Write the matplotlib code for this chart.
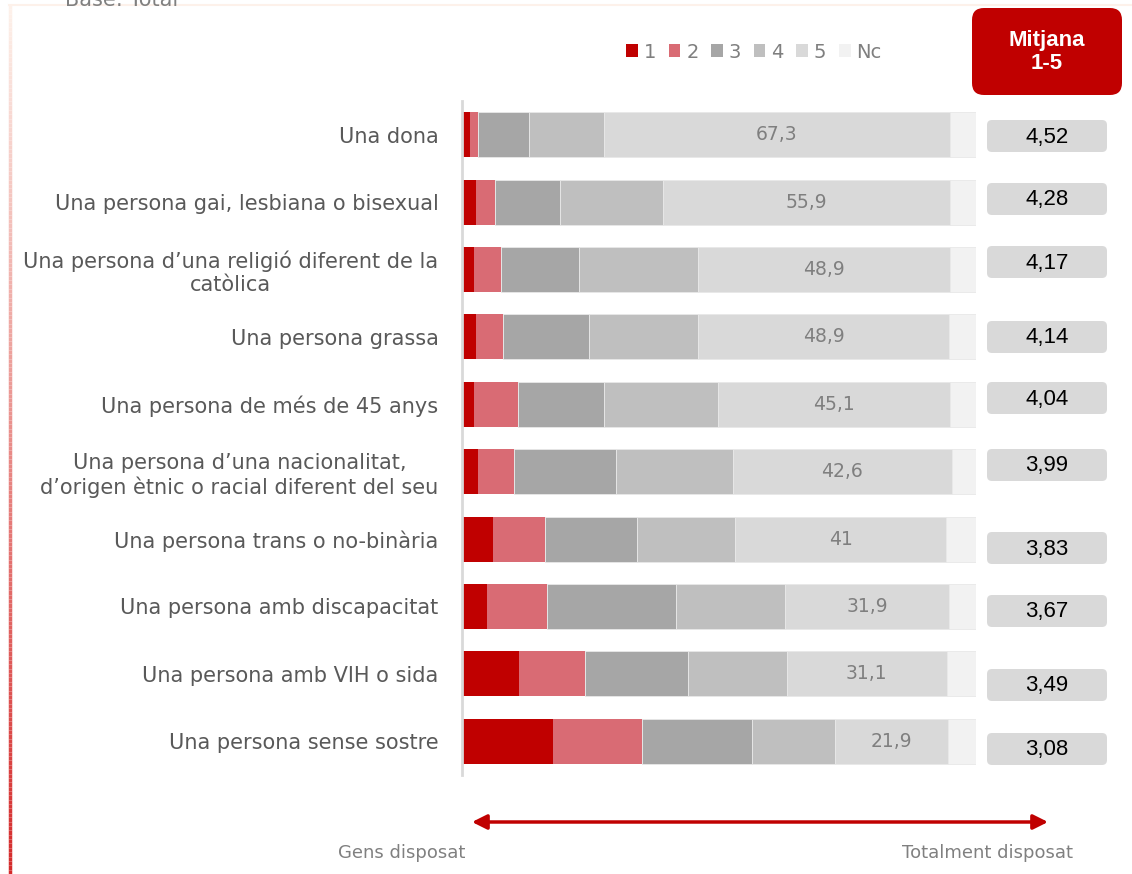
import numpy as np
import matplotlib
matplotlib.use("Agg")
import matplotlib.pyplot as plt
from matplotlib.patches import Patch, FancyBboxPatch
from matplotlib.collections import LineCollection

plt.rcParams['font.family'] = ['DejaVu Sans']

# dades
categories = [
    "Una dona",
    "Una persona gai, lesbiana o bisexual",
    "Una persona d\u2019una religió diferent de la\ncatòlica",
    "Una persona grassa",
    "Una persona de més de 45 anys",
    "Una persona d\u2019una nacionalitat,\nd\u2019origen ètnic o racial diferent del seu",
    "Una persona trans o no-binària",
    "Una persona amb discapacitat",
    "Una persona amb VIH o sida",
    "Una persona sense sostre",
]
v1 = [1.5, 2.8, 2.4, 2.7, 2.4, 3.2, 6.0, 4.9, 11.1, 17.8]
v2 = [1.7, 3.7, 5.1, 5.3, 8.4, 6.9, 10.1, 11.7, 12.9, 17.2]
v3 = [9.9, 12.6, 15.3, 16.8, 16.9, 19.8, 18.0, 25.0, 20.0, 21.5]
v4 = [14.5, 20.0, 23.2, 21.1, 22.1, 22.8, 19.1, 21.3, 19.2, 16.1]
v5 = [67.3, 55.9, 48.9, 48.9, 45.1, 42.6, 41.0, 31.9, 31.1, 21.9]
nc = [5.1, 5.0, 5.1, 5.2, 5.1, 4.7, 5.8, 5.2, 5.7, 5.5]
mitjana = [4.52, 4.28, 4.17, 4.14, 4.04, 3.99, 3.83, 3.67, 3.49, 3.08]
serie_noms = ["1", "2", "3", "4", "5", "Nc"]

colors = ['#c00000', '#d96b74', '#a6a6a6', '#bfbfbf', '#d9d9d9', '#f2f2f2']

def fmt(v):
    s = "%.1f" % v
    if s.endswith(".0"):
        s = s[:-2]
    return s.replace(".", ",")

W, H = 1132, 874
fig = plt.figure(figsize=(W/100, H/100), dpi=100)

# capa de decoracio en pixels
ov = fig.add_axes([0, 0, 1, 1])
ov.set_xlim(0, W)
ov.set_ylim(H, 0)
ov.axis('off')

ax = fig.add_axes([462/W, 1-775/H, 514/W, 674/H])

y = np.arange(len(categories))
series = [v1, v2, v3, v4, v5, nc]
left = np.zeros(len(categories))
for i, s in enumerate(series):
    s = np.array(s)
    ax.barh(y, s, left=left, height=0.67, color=colors[i],
            edgecolor='#e8e8e8' if i > 1 else 'none', linewidth=0.6)
    if i == 4:
        for yy, l, v in zip(y, left, s):
            ax.text(l + v/2, yy, fmt(v), ha='center', va='center',
                    color='#7f7f7f', fontsize=13.5)
    left += s

ax.set_xlim(0, 100)
ax.set_ylim(len(categories)-0.5, -0.5)
ax.set_yticks(y)
ax.set_yticklabels(categories, fontsize=15, color='#595959',
                   multialignment='center')
ax.tick_params(axis='y', length=0, pad=17)
ax.set_xticks([])
for sp in ['top', 'right', 'bottom']:
    ax.spines[sp].set_visible(False)
ax.spines['left'].set_color('#d9d9d9')
ax.spines['left'].set_linewidth(2)

# llegenda
handles = [Patch(facecolor=c, edgecolor='none') for c in colors]
leg = fig.legend(handles, serie_noms, ncol=6, loc='center',
                 bbox_to_anchor=(754/W, 1-52/H), frameon=False,
                 handlelength=0.6, handleheight=0.6, handletextpad=0.3,
                 columnspacing=0.65, fontsize=14)
for t in leg.get_texts():
    t.set_color('#7f7f7f')

# caixa Mitjana
ov.add_patch(FancyBboxPatch((972, 8), 150, 87, boxstyle="round,pad=0,rounding_size=12",
                            facecolor='#c00000', edgecolor='none'))
ov.text(1047, 52, "Mitjana\n1-5", ha='center', va='center', color='white',
        fontsize=16, fontweight='bold', family='Liberation Sans', linespacing=1.1)

box_y = [136, 199, 262, 337, 398, 465, 548, 611, 685, 749]
for by, m in zip(box_y, mitjana):
    ov.add_patch(FancyBboxPatch((987, by-16), 120, 32, boxstyle="round,pad=0,rounding_size=5",
                                facecolor='#d9d9d9', edgecolor='none'))
    ov.text(1047, by+1, ("%.2f" % m).replace(".", ","), ha='center', va='center',
            color='black', fontsize=16, family='Liberation Sans')

# fletxa
ov.annotate('', xy=(472, 822), xytext=(1048, 822),
            arrowprops=dict(arrowstyle='<|-|>', color='#c00000', lw=2.5,
                            mutation_scale=22, shrinkA=0, shrinkB=0))
ov.text(402, 853, "Gens disposat", ha='center', va='center', color='#808080', fontsize=13)
ov.text(987, 853, "Totalment disposat", ha='center', va='center', color='#808080', fontsize=13)

# capcalera tallada (com a l'original)
ov.text(65, 6, "Base: Total", ha='left', va='baseline', color='#808080', fontsize=15)

# marc i linia lateral
ov.plot([9, W], [5, 5], color='#fdf1ea', lw=1.5)
ys = np.linspace(5, H, 200)
segs = [[(9.5, ys[k]), (9.5, ys[k+1])] for k in range(len(ys)-1)]
c0 = np.array(matplotlib.colors.to_rgb('#fdf1ea'))
c1 = np.array(matplotlib.colors.to_rgb('#d42a2a'))
tt = np.linspace(0, 1, len(segs))
cols = [c0 + (c1-c0)*t for t in tt]
ov.add_collection(LineCollection(segs, colors=cols, linewidths=2.5))

fig.savefig("out.png", dpi=100)
